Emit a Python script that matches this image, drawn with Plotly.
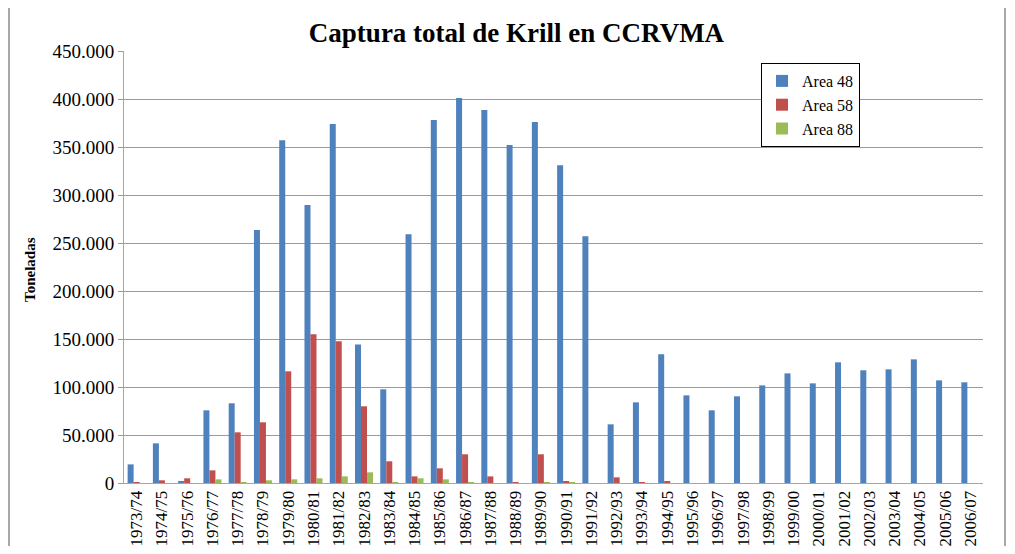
import plotly.graph_objects as go

categories = ["1973/74", "1974/75", "1975/76", "1976/77", "1977/78", "1978/79", "1979/80",
              "1980/81", "1981/82", "1982/83", "1983/84", "1984/85", "1985/86", "1986/87",
              "1987/88", "1988/89", "1989/90", "1990/91", "1991/92", "1992/93", "1993/94",
              "1994/95", "1995/96", "1996/97", "1997/98", "1998/99", "1999/00", "2000/01",
              "2001/02", "2002/03", "2003/04", "2004/05", "2005/06", "2006/07"]

area48 = [19400, 41300, 1700, 75700, 83000, 263500, 357000, 289600, 374000, 144400, 97600,
          259000, 378000, 401000, 388500, 352000, 376000, 331000, 257000, 61100, 84000,
          134000, 91300, 75700, 90300, 101700, 114200, 103800, 125700, 117400, 118400,
          128800, 106900, 104900]

area58 = [700, 2800, 4900, 13200, 52800, 63200, 116300, 154900, 147600, 79900, 22600,
          6900, 15300, 29900, 6900, 700, 29900, 1700, 0, 5900, 700,
          1700, 0, 0, 0, 0, 0, 0, 0, 0, 0,
          0, 0, 0]

area88 = [0, 0, 0, 3800, 700, 2800, 3800, 4900, 6900, 11100, 700,
          4900, 3800, 700, 0, 0, 500, 500, 0, 0, 0,
          0, 0, 0, 0, 0, 0, 0, 0, 0, 0,
          0, 0, 0]

series_names = ["Area 48", "Area 58", "Area 88"]
series_colors = ["#4F81BD", "#C0504D", "#9BBB59"]

SERIF = "Liberation Serif, Times New Roman, serif"

fig = go.Figure()
for name, vals, col in zip(series_names, [area48, area58, area88], series_colors):
    fig.add_trace(go.Bar(x=categories, y=vals, name=name, marker=dict(color=col, line=dict(width=0))))

# page body has an 8px margin; work in page pixels and convert
OFF = 8
W, H = 1015 - 2 * OFF, 554 - 2 * OFF
PL, PR, PT, PB = 124, 983, 51, 483          # plot area in page pixels
L, T = PL - OFF, PT - OFF
R = W - (PR - OFF)
B = H - (PB - OFF)
pw, ph = PR - PL, PB - PT

def px(xp):
    return (xp - PL) / pw

def py(yp):
    return (PB - yp) / ph

fig.update_layout(
    width=W, height=H,
    margin=dict(l=L, r=R, t=T, b=B, autoexpand=False),
    paper_bgcolor="white", plot_bgcolor="white",
    barmode="group", bargap=0.287, bargroupgap=0,
    separators=",.",
    font=dict(family=SERIF, color="black"),
    title=dict(text="<b>Captura total de Krill en CCRVMA</b>", x=((306 + 727) / 2 - OFF) / W, xanchor="center",
               y=1 - (33 - OFF) / H, yanchor="middle", yref="container",
               font=dict(family=SERIF, size=27, color="black")),
    showlegend=True,
    legend=dict(x=px(761), y=py(63), xanchor="left", yanchor="top",
                bordercolor="black", borderwidth=1, bgcolor="white",
                font=dict(family=SERIF, size=16, color="black"),
                tracegroupgap=0, itemwidth=30),
    xaxis=dict(type="category", tickangle=-90, showline=True, linecolor="#a6a6a6", linewidth=1,
               showgrid=False, ticks="", tickfont=dict(family=SERIF, size=17, color="black")),
    yaxis=dict(range=[0, 450000], dtick=50000, tickformat=",d", showgrid=True,
               gridcolor="#9a9a9a", gridwidth=1, showline=True, linecolor="#a6a6a6", linewidth=1,
               ticks="outside", ticklen=5, tickcolor="#9a9a9a", zeroline=False,
               tickfont=dict(family=SERIF, size=19, color="black")),
    hovermode=False,
)

fig.add_annotation(text="<b>Toneladas</b>", x=px(30), y=py(270), xref="paper", yref="paper",
                   textangle=-90, showarrow=False, xanchor="center", yanchor="middle",
                   font=dict(family=SERIF, size=15, color="black"))

fig.add_shape(type="rect", xref="paper", yref="paper",
              x0=px(9), x1=px(1005), y0=py(560), y1=py(4),
              line=dict(color="#8c8c8c", width=1.5), fillcolor="rgba(0,0,0,0)", layer="below")

fig.write_html("out.html")
